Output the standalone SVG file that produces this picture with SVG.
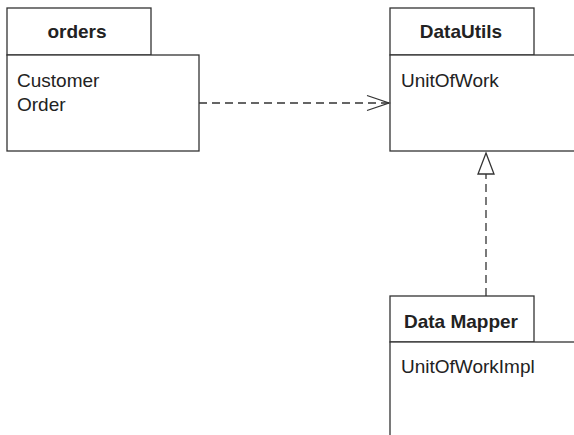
<svg xmlns="http://www.w3.org/2000/svg" width="574" height="435" viewBox="0 0 574 435">
<style>
.box{fill:#fff;stroke:#333;stroke-width:1.3}
.t{font-family:"Liberation Sans",Arial,sans-serif;font-size:19px;fill:#222}
.b{font-weight:bold}
.c{fill:none;stroke:#333;stroke-width:1.3}
.d{stroke-dasharray:8 5}
</style>
<rect width="574" height="435" fill="#fff"/>
<g id="orders">
<rect class="box" x="7" y="8" width="144" height="47"/>
<rect class="box" x="7" y="55" width="192" height="96"/>
<text class="t b" x="77" y="38" text-anchor="middle">orders</text>
<text class="t" x="17" y="87">Customer</text>
<text class="t" x="17" y="111">Order</text>
</g>
<g id="datautils">
<rect class="box" x="390" y="8" width="144" height="47"/>
<rect class="box" x="390" y="55" width="190" height="96"/>
<text class="t b" x="461" y="38" text-anchor="middle">DataUtils</text>
<text class="t" x="401" y="87">UnitOfWork</text>
</g>
<g id="datamapper">
<rect class="box" x="390" y="296" width="144" height="46"/>
<rect class="box" x="390" y="342" width="190" height="100"/>
<text class="t b" x="461" y="328" text-anchor="middle">Data Mapper</text>
<text class="t" x="401" y="373">UnitOfWorkImpl</text>
</g>
<g id="connectors">
<line class="c d" x1="199" y1="103" x2="389" y2="103"/>
<polyline class="c" points="367,95.5 389,103 367,110.5"/>
<line class="c d" x1="486" y1="296" x2="486" y2="174"/>
<polygon class="box" points="486,153 494,174 478,174"/>
</g>
</svg>
